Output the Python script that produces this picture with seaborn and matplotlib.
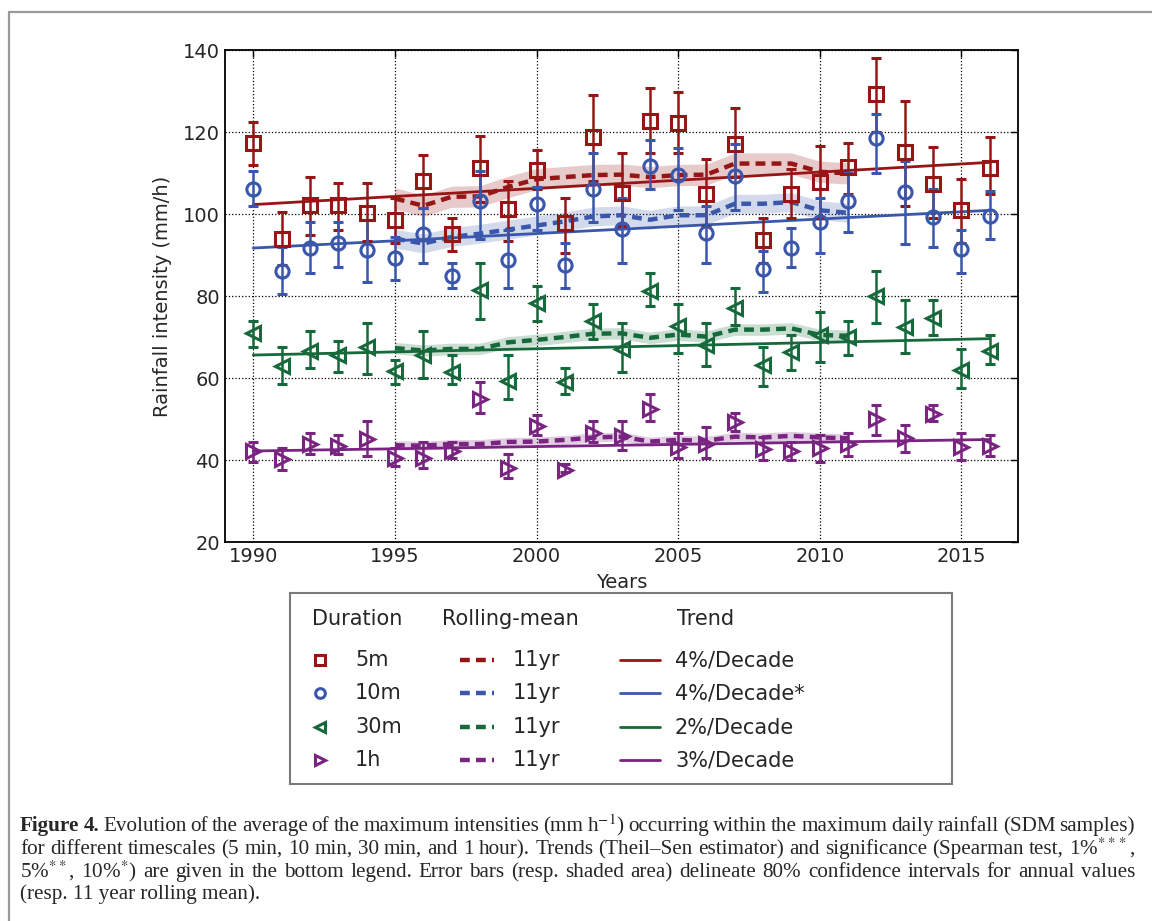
# encoding: utf-8
import matplotlib
matplotlib.use("Agg")
import matplotlib.pyplot as plt
import seaborn as sns
import pandas as pd
from matplotlib.lines import Line2D

# Data
years = list(range(1990, 2017))
roll_years = list(range(1995, 2012))

val_5m = [117.2, 93.8, 102.2, 102.2, 100.2, 98.5, 108.1, 95.2, 111.2, 101.1, 110.8, 97.8, 118.7, 105.1,
          122.8, 122.2, 105.0, 117.0, 93.6, 105.0, 107.8, 111.4, 129.2, 115.1, 107.4, 100.9, 111.2]
lo_5m = [112, 87.5, 95, 96, 93.5, 93, 101.5, 91, 103, 93.5, 106, 90.5, 108, 97,
         115, 115, 97, 109, 88, 99, 99, 105, 120, 102, 99, 93, 105]
hi_5m = [122.5, 100.5, 109, 107.5, 107.5, 104, 114.5, 99, 119, 108, 115.5, 104, 129, 115,
         130.7, 129.7, 113.4, 125.9, 99, 110.9, 116.6, 117.4, 138.1, 127.6, 116.4, 108.6, 118.7]

val_10m = [106.0, 86.2, 91.8, 93.0, 91.1, 89.3, 95.2, 84.9, 103.2, 88.7, 102.4, 87.6, 106.0, 96.3,
           111.7, 109.5, 95.4, 109.3, 86.6, 91.6, 98.0, 103.2, 118.6, 105.4, 99.2, 91.5, 99.4]
lo_10m = [102, 80.5, 85.5, 87, 83.5, 84, 88, 82, 94, 82, 96, 82, 98, 88,
          106, 101, 88, 101, 81, 87, 90.5, 95.5, 110, 92.8, 92, 85.5, 94]
hi_10m = [110.5, 92, 98, 98, 98.5, 94.5, 101.5, 88, 110.5, 96, 106.5, 93, 115, 104,
          118, 116, 102, 117, 91, 96.5, 104, 110, 124.5, 113, 106, 96, 105.5]

val_30m = [71.0, 63.0, 66.7, 65.6, 67.5, 61.6, 65.7, 61.4, 81.5, 59.3, 78.3, 59.0, 74.0, 67.1,
           81.1, 72.8, 68.1, 77.1, 63.2, 66.3, 70.4, 70.1, 80.1, 72.4, 74.6, 62.0, 66.7]
lo_30m = [67.5, 58.5, 62.5, 61.5, 61, 58.5, 60, 58.5, 74.5, 55, 74, 56, 69.5, 61.5,
          77.5, 66, 63, 73, 58, 62, 64, 65.5, 73.5, 66, 70.5, 57.5, 63.5]
hi_30m = [74, 67.5, 71.5, 69, 73.5, 64.5, 71.5, 65.5, 88, 65.5, 82.5, 62.5, 78, 73.5,
          85.5, 78, 73.5, 82, 67.5, 70.5, 76, 74, 86, 79, 79, 67, 70.5]

val_1h = [42.1, 40.2, 43.9, 43.5, 45.1, 40.6, 40.6, 42.1, 54.9, 38.0, 48.4, 37.6, 46.7, 45.9,
          52.4, 43.2, 44.0, 49.2, 42.7, 42.2, 42.9, 43.9, 50.0, 45.3, 51.2, 43.1, 43.3]
lo_1h = [39.5, 37.5, 41.5, 41.5, 41, 38.5, 38, 40.5, 51.5, 35.5, 46, 37, 44.5, 42.5,
         49.5, 40.5, 40.5, 47, 40, 40, 39.5, 41, 46, 42, 49.5, 40, 41]
hi_1h = [44.5, 43, 46.5, 46, 49.5, 43, 44.5, 44.5, 59, 41.5, 51, 39, 49.5, 49.5,
         56, 46.5, 48, 51.5, 45.5, 44.5, 46, 46.5, 53.5, 48.5, 53.5, 46.5, 46]

# 11 year rolling means (1995-2011) and half-width of shaded band
roll_5m = [103.8, 102.0, 104.2, 104.3, 106.6, 108.5, 109.0, 109.5, 109.6, 109.0, 109.5, 109.6,
           112.3, 112.3, 112.3, 110.3, 109.9]
roll_10m = [94.0, 92.8, 94.4, 95.2, 96.2, 97.2, 98.2, 99.4, 99.7, 98.6, 99.7, 99.7,
            102.5, 102.5, 102.9, 100.9, 100.3]
roll_30m = [67.3, 66.7, 67.1, 67.1, 68.7, 69.3, 70.0, 70.8, 70.9, 69.8, 70.6, 70.1,
            71.8, 71.8, 72.1, 70.5, 70.3]
roll_1h = [43.6, 43.5, 43.9, 43.9, 44.4, 44.5, 44.9, 45.5, 45.7, 44.5, 44.9, 44.7,
           45.7, 45.5, 45.9, 45.5, 45.3]
band_half = [2.6, 2.3, 1.4, 1.1]

# Theil-Sen trend lines (value at 1990 and at 2016)
trend_start = [102.3, 91.7, 65.6, 42.2]
trend_end = [112.6, 100.9, 69.6, 45.0]

durations = ["5m", "10m", "30m", "1h"]
trend_labels = ["4%/Decade", "4%/Decade*", "2%/Decade", "3%/Decade"]

colors = ["#961616", "#3a57ab", "#16693a", "#7a2482"]
markers = ["s", "o", "<", ">"]

values = [val_5m, val_10m, val_30m, val_1h]
lows = [lo_5m, lo_10m, lo_30m, lo_1h]
highs = [hi_5m, hi_10m, hi_30m, hi_1h]
rolls = [roll_5m, roll_10m, roll_30m, roll_1h]

sns.set_style("white")
plt.rcParams["font.family"] = ["DejaVu Sans"]
plt.rcParams["xtick.direction"] = "in"
plt.rcParams["ytick.direction"] = "in"
plt.rcParams["mathtext.fontset"] = "stix"

fig = plt.figure(figsize=(11.52, 9.21), dpi=100)
ax = fig.add_axes([0.1953, 0.4115, 0.6884, 0.5342])

for i in range(4):
    c = colors[i]
    v = values[i]
    # rolling mean band + dashed line
    df_roll = pd.DataFrame({"year": roll_years, "val": rolls[i]})
    ax.fill_between(df_roll["year"], df_roll["val"] - band_half[i], df_roll["val"] + band_half[i],
                    color=c, alpha=0.22, lw=0, zorder=1)
    sns.lineplot(data=df_roll, x="year", y="val", ax=ax, color=c, lw=3.2,
                 linestyle=(0, (2.2, 1.4)), zorder=3)
    # trend line
    sns.lineplot(x=[years[0], years[-1]], y=[trend_start[i], trend_end[i]], ax=ax,
                 color=c, lw=2.0, zorder=3)
    # annual values with error bars
    yerr = [[a - b for a, b in zip(v, lows[i])], [b - a for a, b in zip(v, highs[i])]]
    ax.errorbar(years, v, yerr=yerr, fmt=markers[i], mfc="none", mec=c, ecolor=c,
                ms=10 if markers[i] != "o" else 9.5, mew=2.2, elinewidth=1.8,
                capsize=3.5, capthick=1.5, zorder=4)

ax.set_xlim(1989, 2017)
ax.set_ylim(20, 140)
ax.set_xticks(range(1990, 2016, 5))
ax.set_yticks(range(20, 141, 20))
ax.tick_params(labelsize=14, top=True, right=True, length=5, width=1, color="black")
ax.grid(True, color="black", linestyle=":", lw=0.9)
for s in ax.spines.values():
    s.set_color("black")
    s.set_linewidth(1.3)
ax.set_xlabel("Years", fontsize=14, labelpad=5)
ax.set_ylabel("Rainfall intensity (mm/h)", fontsize=14, labelpad=8)

# Legend box drawn in pixel-like coordinates
lax = fig.add_axes([290 / 1152, 1 - 784 / 921, 662 / 1152, 191 / 921])
lax.set_xlim(290, 952)
lax.set_ylim(784, 593)
lax.set_xticks([])
lax.set_yticks([])
for s in lax.spines.values():
    s.set_color("#7a7a7a")
    s.set_linewidth(1.5)

fs = 15
lax.text(312, 619, "Duration", fontsize=fs, va="center", ha="left")
lax.text(442, 619, "Rolling-mean", fontsize=fs, va="center", ha="left")
lax.text(706, 619, "Trend", fontsize=fs, va="center", ha="center")
row_y = [660, 693, 727, 760]
for i in range(4):
    c = colors[i]
    y = row_y[i]
    lax.plot([320], [y], marker=markers[i], mfc="none", mec=c, mew=2.2, ms=7, ls="none")
    lax.text(355, y, durations[i], fontsize=fs, va="center", ha="left")
    lax.plot([460, 494], [y, y], color=c, lw=3.2, linestyle=(0, (2.2, 1.4)))
    lax.text(513, y, "11yr", fontsize=fs, va="center", ha="left")
    lax.plot([620, 660], [y, y], color=c, lw=2.0)
    lax.text(675, y, trend_labels[i], fontsize=fs, va="center", ha="left")

# outer frame
fig.add_artist(Line2D([9 / 1152, 9 / 1152], [0, 1 - 12 / 921], color="#999999", lw=1.6,
                      transform=fig.transFigure))
fig.add_artist(Line2D([9 / 1152, 1], [1 - 12 / 921, 1 - 12 / 921], color="#999999", lw=1.6,
                      transform=fig.transFigure))

# caption (lines 1-3 justified between x=20 and x=1135)
cap_font = ["Liberation Serif", "DejaVu Serif"]
cap_lines = [
    r"Evolution of the average of the maximum intensities (mm h$^{-1}$) occurring within the maximum daily rainfall (SDM samples)",
    r"for different timescales (5 min, 10 min, 30 min, and 1 hour). Trends (Theil–Sen estimator) and significance (Spearman test, 1%$^{***}$,",
    r"5%$^{**}$, 10%$^{*}$) are given in the bottom legend. Error bars (resp. shaded area) delineate 80% confidence intervals for annual values",
    r"(resp. 11 year rolling mean).",
]
cap_base = [831, 854, 877, 899]
cfs = 15.2
renderer = fig.canvas.get_renderer()


def justified(words, y, x0, x1, first_bold=None):
    items = []
    if first_bold:
        for w in first_bold.split(" "):
            items.append(fig.text(0, 1 - y / 921, w, fontsize=cfs, fontweight="bold",
                                  family=cap_font, va="baseline", ha="left"))
    for w in words.split(" "):
        items.append(fig.text(0, 1 - y / 921, w, fontsize=cfs, family=cap_font,
                              va="baseline", ha="left"))
    widths = [t.get_window_extent(renderer).width for t in items]
    gap = (x1 - x0 - sum(widths)) / (len(items) - 1)
    x = x0
    for t, w in zip(items, widths):
        t.set_x(x / 1152)
        x += w + gap


justified(cap_lines[0], cap_base[0], 20, 1135, first_bold="Figure 4.")
justified(cap_lines[1], cap_base[1], 20, 1135)
justified(cap_lines[2], cap_base[2], 20, 1135)
fig.text(20 / 1152, 1 - cap_base[3] / 921, cap_lines[3], fontsize=cfs, family=cap_font,
         va="baseline", ha="left")

fig.savefig("out.png", dpi=100)
